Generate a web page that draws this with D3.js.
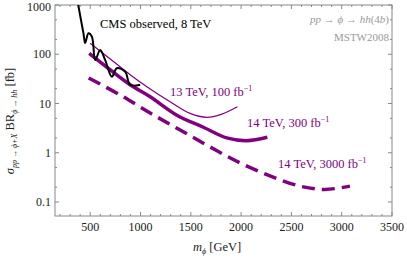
<!DOCTYPE html>
<html><head><meta charset="utf-8">
<script src="https://cdn.jsdelivr.net/npm/d3@7"></script>
<style>body{margin:0;background:#fff}svg{display:block}</style>
</head><body>
<script>
const cmsMass = [360, 384, 433, 450, 483, 517, 550, 599, 649, 715, 765, 848, 897, 997];
const cmsVal  = [1800, 924, 266, 169, 266, 227, 76, 122, 76, 35, 52, 44, 24, 24];
const tev13Mass = [500, 731, 900, 1063, 1294, 1493, 1659, 1808, 1963];
const tev13Val  = [167, 71, 38, 22, 10.9, 6.3, 5.25, 6.1, 8.6];
const tev14Mass = [490, 700, 897, 1096, 1361, 1625, 1857, 2056, 2261];
const tev14Val  = [104, 48, 24, 13.7, 5.8, 3.3, 2.0, 1.76, 2.06];
const hlMass = [485, 798, 1096, 1394, 1692, 1990, 2287, 2585, 2834, 3082];
const hlVal  = [33, 14.9, 6.4, 2.9, 1.31, 0.62, 0.34, 0.21, 0.18, 0.21];
const xTicks = [500, 1000, 1500, 2000, 2500, 3000, 3500];
const yTicks = [0.1, 1, 10, 100, 1000];
const yTickLabels = ["0.1", "1", "10", "100", "1000"];

const W = 407, H = 257;
const L = 55, R = 392, T = 5, B = 216;
const FONT = "'Liberation Serif', 'Times New Roman', 'DejaVu Serif', serif";
const svg = d3.select("body").append("svg").attr("width", W).attr("height", H)
  .attr("font-family", FONT).style("font-family", FONT);
const x = d3.scaleLinear().domain([150, 3500]).range([L, R]);
const y = d3.scaleLog().domain([0.052, 1000]).range([B, T]);
const purple = "#800080";
const axisCol = "#888";

svg.append("defs").append("clipPath").attr("id", "clip")
  .append("rect").attr("x", L).attr("y", T).attr("width", R - L).attr("height", B - T);

svg.append("rect").attr("x", L).attr("y", T).attr("width", R - L).attr("height", B - T)
  .attr("fill", "none").attr("stroke", axisCol).attr("stroke-width", 1);

const xMinor = d3.range(200, 3500, 100).filter(v => v % 500 !== 0);
const yMinor = [];
[0.1, 1, 10, 100].forEach(d => { [2, 5].forEach(k => yMinor.push(d * k)); });

const tg = svg.append("g").attr("stroke", axisCol).attr("stroke-width", 1);
xTicks.forEach(v => {
  tg.append("line").attr("x1", x(v)).attr("x2", x(v)).attr("y1", B).attr("y2", B - 4);
  tg.append("line").attr("x1", x(v)).attr("x2", x(v)).attr("y1", T).attr("y2", T + 4);
});
xMinor.forEach(v => {
  tg.append("line").attr("x1", x(v)).attr("x2", x(v)).attr("y1", B).attr("y2", B - 2);
  tg.append("line").attr("x1", x(v)).attr("x2", x(v)).attr("y1", T).attr("y2", T + 2);
});
yTicks.forEach(v => {
  tg.append("line").attr("x1", L).attr("x2", L + 4).attr("y1", y(v)).attr("y2", y(v));
  tg.append("line").attr("x1", R).attr("x2", R - 4).attr("y1", y(v)).attr("y2", y(v));
});
yMinor.forEach(v => {
  tg.append("line").attr("x1", L).attr("x2", L + 2).attr("y1", y(v)).attr("y2", y(v));
  tg.append("line").attr("x1", R).attr("x2", R - 2).attr("y1", y(v)).attr("y2", y(v));
});

xTicks.forEach(v => {
  svg.append("text").attr("x", x(v)).attr("y", 231).attr("text-anchor", "middle")
    .attr("font-size", 12).attr("fill", "#222").text(v);
});
yTicks.forEach((v, i) => {
  svg.append("text").attr("x", 51).attr("y", Math.max(y(v) + 4, 11)).attr("text-anchor", "end")
    .attr("font-size", 12).attr("fill", "#222").text(yTickLabels[i]);
});

const g = svg.append("g").attr("clip-path", "url(#clip)");
const line = d3.line().x(d => x(d[0])).y(d => y(d[1])).curve(d3.curveCatmullRom.alpha(0.5));
const zip = (a, b) => a.map((v, i) => [v, b[i]]);

g.append("path").attr("d", line(zip(hlMass, hlVal))).attr("fill", "none")
  .attr("stroke", purple).attr("stroke-width", 3.5).attr("stroke-dasharray", "13,7");
g.append("path").attr("d", line(zip(tev14Mass, tev14Val))).attr("fill", "none")
  .attr("stroke", purple).attr("stroke-width", 3.5);
g.append("path").attr("d", line(zip(tev13Mass, tev13Val))).attr("fill", "none")
  .attr("stroke", purple).attr("stroke-width", 1.2);
g.append("path").attr("d", line(zip(cmsMass, cmsVal))).attr("fill", "none")
  .attr("stroke", "#000").attr("stroke-width", 2);

svg.append("text").attr("x", 100).attr("y", 28).attr("font-size", 12.5).attr("fill", "#000")
  .text("CMS observed, 8 TeV");

const tr = svg.append("text").attr("x", 389).attr("y", 23).attr("text-anchor", "end")
  .attr("font-size", 11).attr("fill", "#999");
tr.append("tspan").attr("font-style", "italic").text("pp");
tr.append("tspan").text(" → ");
tr.append("tspan").attr("font-style", "italic").text("ϕ");
tr.append("tspan").text(" → ");
tr.append("tspan").attr("font-style", "italic").text("hh");
tr.append("tspan").text("(4");
tr.append("tspan").attr("font-style", "italic").text("b");
tr.append("tspan").text(")");
svg.append("text").attr("x", 389).attr("y", 41).attr("text-anchor", "end")
  .attr("font-size", 11).attr("fill", "#999").text("MSTW2008");

function lumiLabel(px, py, a, b) {
  const t = svg.append("text").attr("x", px).attr("y", py).attr("font-size", 12.5).attr("fill", purple);
  t.append("tspan").text(a + ",  " + b + " fb");
  t.append("tspan").attr("font-size", 8).attr("dy", -5).text("−1");
}
lumiLabel(170, 96, "13 TeV", "100");
lumiLabel(247, 127, "14 TeV", "300");
lumiLabel(278, 168, "14 TeV", "3000");

const xl = svg.append("text").attr("x", 193).attr("y", 251).attr("font-size", 12.5).attr("fill", "#222");
xl.append("tspan").attr("font-style", "italic").text("m");
xl.append("tspan").attr("font-style", "italic").attr("font-size", 8).attr("dy", 3).text("ϕ");
xl.append("tspan").attr("dy", -3).text("  [GeV]");

const yl = svg.append("text").attr("transform", "translate(14,121) rotate(-90)")
  .attr("text-anchor", "middle").attr("font-size", 12.5).attr("fill", "#222");
yl.append("tspan").attr("font-style", "italic").text("σ");
yl.append("tspan").attr("font-style", "italic").attr("font-size", 8).attr("dy", 3).text("pp → ϕ+X");
yl.append("tspan").attr("dy", -3).text(" BR");
yl.append("tspan").attr("font-style", "italic").attr("font-size", 8).attr("dy", 3).text("ϕ → hh");
yl.append("tspan").attr("dy", -3).text("  [fb]");
</script>
</body></html>
